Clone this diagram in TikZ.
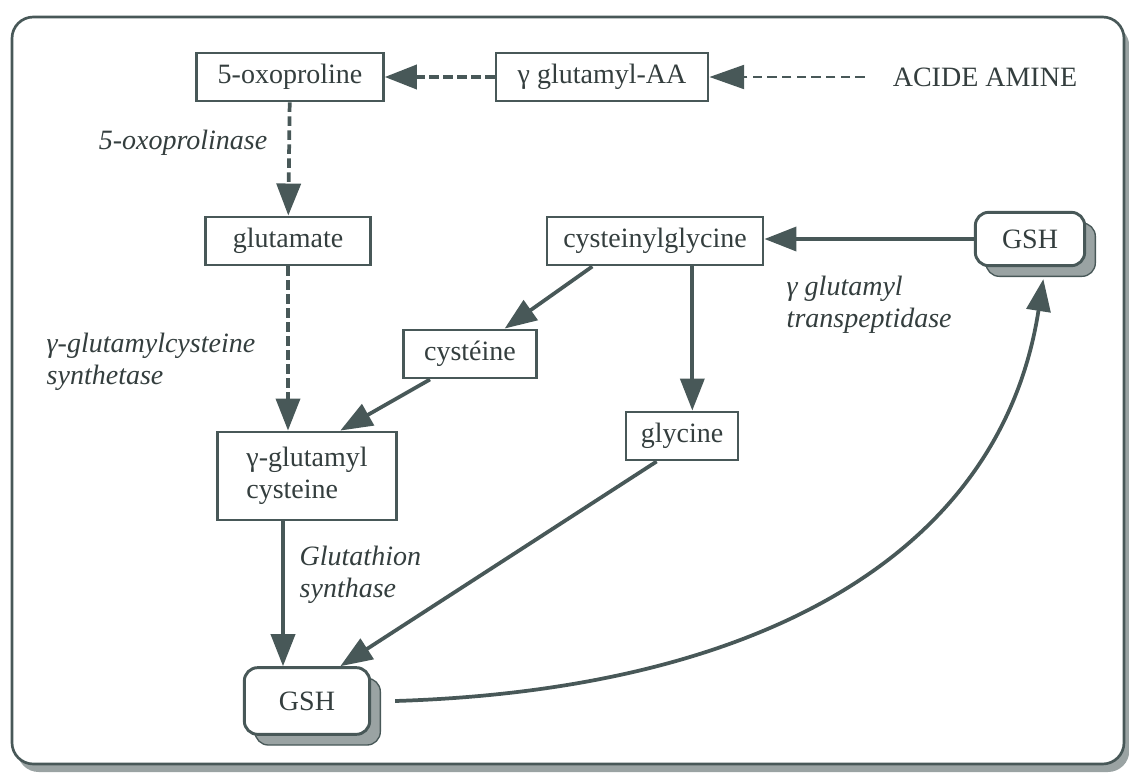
\documentclass[tikz,border=0pt]{standalone}
\usepackage{fontspec}
\setmainfont{Liberation Serif}
\usetikzlibrary{
  arrows.meta,
  positioning,
  shadows,
}
\definecolor{ink}{RGB}{72,88,88}
\definecolor{inktext}{RGB}{52,62,62}

\begin{document}
\begin{tikzpicture}[
  x=0.75pt, y=-0.75pt,
  every node/.style={text=inktext, font=\rmfamily\fontsize{21}{24}\selectfont},
  box/.style={draw=ink, line width=2.2pt, fill=white, minimum height=36pt, inner xsep=6pt},
  gsh/.style={draw=ink, line width=2.2pt, fill=white, rounded corners=10pt,
    drop shadow={shadow xshift=8pt, shadow yshift=-8pt, opacity=1, fill=ink!55, draw=ink, line width=1pt}},
  enz/.style={align=left, font=\rmfamily\fontsize{21}{24}\selectfont\itshape},
  flow/.style={draw=ink, line width=2.8pt, -{Triangle[length=24pt, width=18pt]}},
  dflow/.style={flow, dash pattern=on 7pt off 3.5pt},
  feed/.style={draw=ink, line width=1.5pt, dash pattern=on 7pt off 4pt, -{Triangle[length=26pt, width=18pt]}}
]
\useasboundingbox (0,0) rectangle (1129,775);
% cadre
\draw[draw=ink, line width=2pt, fill=white, rounded corners=16pt,
  drop shadow={shadow xshift=4pt, shadow yshift=-6pt, opacity=1, fill=ink!55}]
  (12,17) rectangle (1124,764);

% voie du haut
\node[box, minimum width=140pt] (oxo) at (290,77) {5-oxoproline};
\node[box, minimum width=159pt] (gaa) at (602,77) {γ glutamyl-AA};
\node[inner xsep=21pt] (aa) at (985,77) {ACIDE AMINE};
\draw[feed] (aa) -- (gaa);
\draw[dflow] (gaa) -- (oxo);

\node[box, minimum width=124pt] (glu) at (288,241) {glutamate};
\draw[dflow] (oxo) -- (glu);
\node[enz, anchor=east] (oxoase) at (272,143) {5-oxoprolinase};

% cycle
\node[box, minimum width=162pt] (cysgly) at (655,241) {cysteinylglycine};
\node[gsh, minimum width=82pt, minimum height=40pt] (gshb) at (1030,239) {GSH};
\draw[flow] (gshb.west) -- (gshb.west -| cysgly.east);
\node[enz, anchor=west] (ggt) at (782,305) {γ glutamyl\\transpeptidase};

\node[box, minimum width=100pt] (cys) at (470,354) {cystéine};
\node[box, minimum width=84pt] (gly) at (682,436) {glycine};
\draw[flow] ([xshift=-47pt]cysgly.south) -- ([xshift=26pt]cys.north);
\draw[flow] ([xshift=28pt]cysgly.south) -- ([xshift=28pt]cysgly.south |- gly.north);

\node[box, minimum width=134pt, minimum height=66pt, align=left] (gcys) at (307,476) {γ-glutamyl\\cysteine};
\draw[dflow] (glu.south) -- (glu.south |- gcys.north);
\node[enz, anchor=west] (gcs) at (42,362) {γ-glutamylcysteine\\synthetase};
\draw[flow] ([xshift=-30pt]cys.south) -- ([xshift=25pt]gcys.north);

\node[gsh, minimum width=94pt, minimum height=50pt] (gsha) at (307,701) {GSH};
\draw[flow] ([xshift=-18pt]gcys.south) -- ([xshift=-18pt]gcys.south |- gsha.north);
\node[enz, anchor=west] (gs) at (295,575) {Glutathion\\synthase};
\draw[flow] ([xshift=-19pt]gly.south) -- ([xshift=25pt]gsha.north);

\draw[flow] ([xshift=18pt]gsha.east) .. controls (750,690) and (1000,560) .. ([xshift=10pt, yshift=-9pt]gshb.south);
\end{tikzpicture}
\end{document}
